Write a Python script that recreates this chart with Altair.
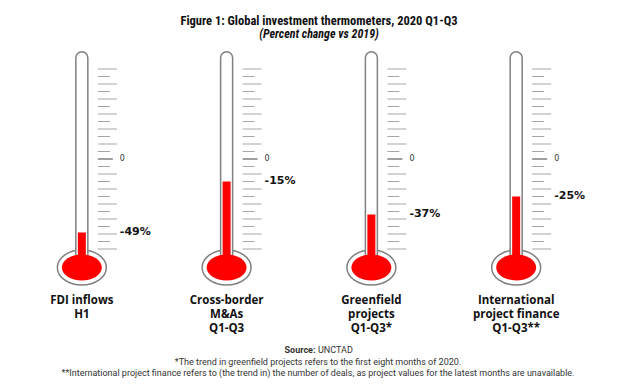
import altair as alt
import pandas as pd

# ---- data ----
keys = ["FDI", "MA", "GF", "IPF"]
cat_labels = [
    "FDI inflows\nH1",
    "Cross-border\nM&As\nQ1-Q3",
    "Greenfield\nprojects\nQ1-Q3*",
    "International\nproject finance\nQ1-Q3**",
]
values = [-49, -15, -37, -25]
value_labels = ["-49%", "-15%", "-37%", "-25%"]
major_ticks = [-60, -50, -40, -30, -20, -10, 10, 20, 30, 40, 50, 60]
minor_ticks = [-55, -45, -35, -25, -15, -5, 5, 15, 25, 35, 45, 55]
zero_tick = [0]
zero_label = ["0"]

title_text = "Figure 1: Global investment thermometers, 2020 Q1-Q3"
subtitle_text = "(Percent change vs 2019)"
source_label = ["Source:"]
source_value = ["UNCTAD"]
footnotes = [
    "*The trend in greenfield projects refers to the first eight months of 2020.",
    "**International project finance refers to (the trend in) the number of deals, as project values for the latest months are unavailable.",
]

# thermometer geometry (in scale units, percent)
TUBE_TOP = 71.5
TUBE_BOTTOM = -67
BULB_Y = -72.3

therm = pd.DataFrame({
    "key": keys,
    "value": values,
    "vlabel": value_labels,
    "clabel": cat_labels,
    "top": [TUBE_TOP] * 4,
    "bottom": [TUBE_BOTTOM] * 4,
    "bulb": [BULB_Y] * 4,
    "zero": [0] * 4,
    "zlabel": zero_label * 4,
})

def tick_df(ticks):
    return pd.DataFrame([{"key": k, "t": t} for k in keys for t in ticks])

x = alt.X("key:N", scale=alt.Scale(type="point", domain=keys, padding=0.51), axis=None)
yscale = alt.Scale(domain=[-144.67, 74], nice=False, zero=False)

def ellipse(k):
    c = 0.5523
    a = round(c * k, 4)
    return (f"M-1,0C-1,{-a},{-c},{-k},0,{-k}C{c},{-k},1,{-a},1,0"
            f"C1,{a},{c},{k},0,{k}C{-c},{k},-1,{a},-1,0Z")

GRAY = "#808080"
RED = "#ff0000"

base = alt.Chart(therm)

bulb_outer = base.mark_point(shape=ellipse(0.714), size=2401, filled=True,
                             fill="white", stroke=GRAY, strokeWidth=1.5, opacity=1).encode(
    x=x, y=alt.Y("bulb:Q", scale=yscale, axis=None))

tube = base.mark_bar(width=12, fill="white", stroke=GRAY, strokeWidth=1.5,
                     cornerRadiusTopLeft=6, cornerRadiusTopRight=6).encode(
    x=x, y=alt.Y("top:Q", scale=yscale, axis=None), y2="bottom:Q")

red_bar = base.mark_bar(width=8, color=RED).encode(
    x=x, y=alt.Y("value:Q", scale=yscale, axis=None), y2="bottom:Q")

red_bulb = base.mark_point(shape=ellipse(0.65), size=1600, filled=True,
                           fill=RED, strokeWidth=0, opacity=1).encode(
    x=x, y=alt.Y("bulb:Q", scale=yscale, axis=None))

major = alt.Chart(tick_df(major_ticks)).mark_tick(
    orient="horizontal", size=19, thickness=1, color="#a6a6a6", xOffset=25.5, opacity=1).encode(
    x=x, y=alt.Y("t:Q", scale=yscale, axis=None))

minor = alt.Chart(tick_df(minor_ticks)).mark_tick(
    orient="horizontal", size=12, thickness=1, color="#a6a6a6", xOffset=22, opacity=1).encode(
    x=x, y=alt.Y("t:Q", scale=yscale, axis=None))

zero = alt.Chart(tick_df(zero_tick)).mark_tick(
    orient="horizontal", size=15, thickness=1, color="#404040", xOffset=23.5, opacity=1).encode(
    x=x, y=alt.Y("t:Q", scale=yscale, axis=None))

zero_txt = base.mark_text(align="left", baseline="middle", dx=38, fontSize=8,
                          font="DejaVu Sans", color="#333333").encode(
    x=x, y=alt.Y("zero:Q", scale=yscale, axis=None), text="zlabel:N")

val_txt = base.mark_text(align="left", baseline="middle", dx=38, fontSize=11,
                         font="DejaVu Sans", fontWeight="bold", color="#111111").encode(
    x=x, y=alt.Y("value:Q", scale=yscale, axis=None), text="vlabel:N")

cat_txt = base.mark_text(align="center", baseline="top", lineBreak="\n", lineHeight=14,
                         fontSize=11.5, font="Open Sans", fontWeight="bold", color="#111111").encode(
    x=x, y=alt.value(247), text="clabel:N")

foot_font = "Roboto"
src1 = alt.Chart(pd.DataFrame({"t": source_label})).mark_text(
    align="right", baseline="middle", fontSize=9, font=foot_font, fontWeight="bold", color="#333333").encode(
    x=alt.value(307.5), y=alt.value(302), text="t:N")
src2 = alt.Chart(pd.DataFrame({"t": source_value})).mark_text(
    align="left", baseline="middle", fontSize=9, font=foot_font, color="#333333").encode(
    x=alt.value(310), y=alt.value(302), text="t:N")
fn1 = alt.Chart(pd.DataFrame({"t": footnotes[:1]})).mark_text(
    align="center", baseline="middle", fontSize=9, font=foot_font, color="#333333").encode(
    x=alt.value(310), y=alt.value(314), text="t:N")
fn2 = alt.Chart(pd.DataFrame({"t": footnotes[1:]})).mark_text(
    align="center", baseline="middle", fontSize=9, font=foot_font, color="#333333").encode(
    x=alt.value(310), y=alt.value(324.5), text="t:N")

title_font = "Roboto Condensed, Liberation Sans Narrow, Roboto"

chart = alt.layer(
    bulb_outer, tube, red_bar, red_bulb, major, minor, zero, zero_txt, val_txt, cat_txt,
    src1, src2, fn1, fn2,
).properties(
    width=582, height=328,
    autosize=alt.AutoSizeParams(type="none"),
    padding={"left": 0, "top": 40, "right": 34, "bottom": 8},
    title=alt.TitleParams(
        text=title_text, subtitle=subtitle_text,
        font=title_font, fontSize=12.5, fontWeight="bold", color="#111111",
        subtitleFont=title_font, subtitleFontSize=12, subtitleFontStyle="italic",
        subtitleFontWeight="bold", subtitleColor="#111111", subtitlePadding=2,
        anchor="middle", dx=20, offset=8, frame="group",
    ),
).configure_view(stroke=None)

chart.save("out.html", embed_options={"renderer": "svg", "actions": False})
